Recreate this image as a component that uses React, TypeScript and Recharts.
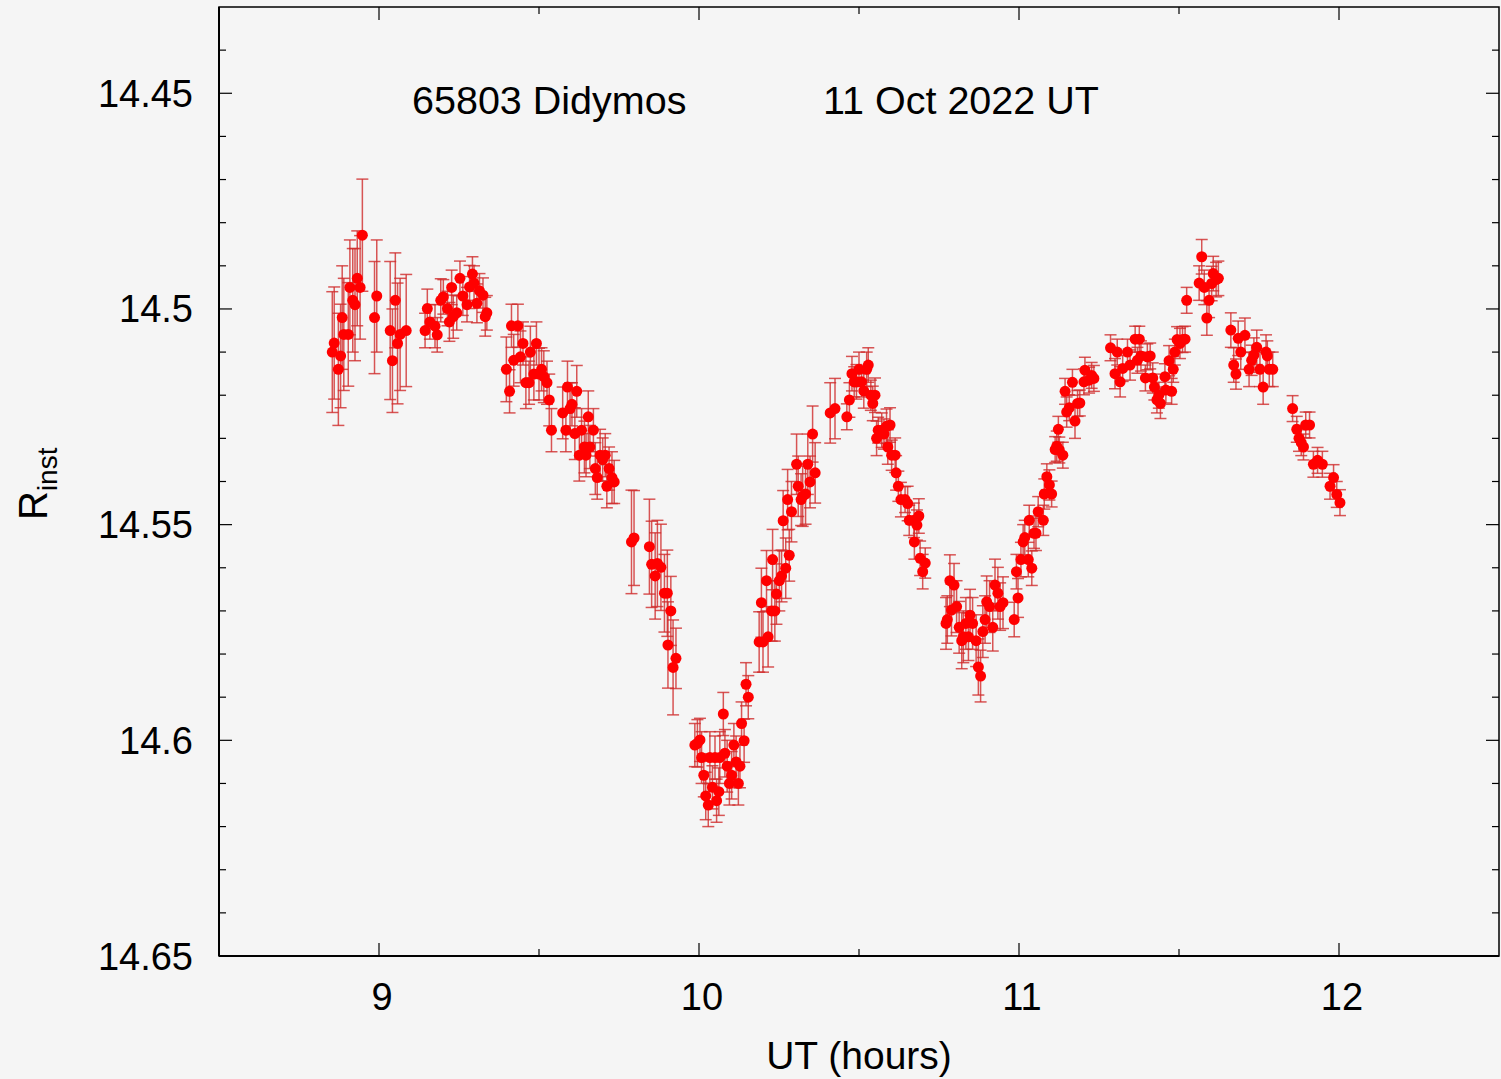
import { ErrorBar, ReferenceArea, Scatter, ScatterChart, XAxis, YAxis } from "recharts";

const W = 1501;
const H = 1079;
const PLOT = { left: 219, top: 7, right: 1499, bottom: 956 };
const AXIS_BOX = 60;
const FONT = '"Liberation Sans", Arial, Helvetica, sans-serif';
const INK = "#000";
const BG = "#f5f5f5";

const X_DOMAIN = [8.5, 12.5];
const Y_DOMAIN = [14.43, 14.65];
const X_MAJOR = [9, 10, 11, 12];
const X_MINOR = [9.5, 10.5, 11.5];
const Y_MAJOR = [14.45, 14.5, 14.55, 14.6, 14.65];
const Y_MINOR = [
  14.44, 14.46, 14.47, 14.48, 14.49, 14.51, 14.52, 14.53, 14.54, 14.56, 14.57, 14.58, 14.59, 14.61, 14.62,
  14.63, 14.64,
];

// [UT hours, R_inst, 1-sigma error]
type Obs = [number, number, number];

const BLOCK_A: Obs[] = [
  [8.854, 14.51, 0.014], [8.86, 14.5079, 0.013], [8.873, 14.514, 0.013], [8.88, 14.5109, 0.012],
  [8.885, 14.502, 0.012], [8.89, 14.5059, 0.013], [8.904, 14.5059, 0.012], [8.909, 14.495, 0.011],
  [8.918, 14.498, 0.012], [8.925, 14.499, 0.013], [8.932, 14.4929, 0.011], [8.941, 14.495, 0.012],
  [8.948, 14.4829, 0.013], [8.986, 14.502, 0.013], [8.993, 14.497, 0.013], [9.035, 14.505, 0.016],
  [9.042, 14.512, 0.012], [9.051, 14.498, 0.011], [9.058, 14.508, 0.014], [9.066, 14.5059, 0.013],
  [9.085, 14.505, 0.013],
];

const BLOCK_B: Obs[] = [
  [9.144, 14.505, 0.004], [9.151, 14.4999, 0.0045], [9.159, 14.503, 0.004], [9.175, 14.504, 0.005],
  [9.182, 14.506, 0.004], [9.193, 14.498, 0.005], [9.201, 14.4972, 0.004], [9.214, 14.4999, 0.004],
  [9.22, 14.503, 0.0045], [9.227, 14.495, 0.004], [9.232, 14.5018, 0.005], [9.243, 14.5009, 0.004],
  [9.253, 14.4929, 0.004], [9.262, 14.497, 0.0045], [9.275, 14.499, 0.004], [9.283, 14.4949, 0.005],
  [9.292, 14.4919, 0.004], [9.297, 14.494, 0.004], [9.306, 14.4987, 0.0045], [9.314, 14.4958, 0.004],
  [9.325, 14.4968, 0.004], [9.332, 14.5018, 0.0045], [9.337, 14.5009, 0.004],
];

const BLOCK_C: Obs[] = [
  [9.398, 14.514, 0.0075], [9.408, 14.5191, 0.005], [9.414, 14.5039, 0.005], [9.421, 14.5119, 0.006],
  [9.434, 14.5039, 0.005], [9.442, 14.5111, 0.006], [9.45, 14.508, 0.005], [9.459, 14.5171, 0.006],
  [9.469, 14.5171, 0.005], [9.473, 14.51, 0.006], [9.484, 14.5151, 0.006], [9.492, 14.508, 0.005],
  [9.5, 14.5151, 0.006], [9.508, 14.514, 0.005], [9.515, 14.5157, 0.006], [9.525, 14.5171, 0.005],
  [9.532, 14.5211, 0.006], [9.539, 14.5281, 0.005], [9.574, 14.5241, 0.006], [9.584, 14.5281, 0.005],
  [9.589, 14.5181, 0.006], [9.597, 14.5231, 0.006], [9.603, 14.5221, 0.005], [9.612, 14.5289, 0.006],
  [9.618, 14.5191, 0.006], [9.626, 14.5339, 0.006], [9.633, 14.5281, 0.005], [9.642, 14.532, 0.006],
  [9.647, 14.5339, 0.005], [9.654, 14.525, 0.006], [9.659, 14.532, 0.005], [9.67, 14.5281, 0.005],
  [9.676, 14.537, 0.006], [9.682, 14.5391, 0.005], [9.691, 14.5339, 0.006], [9.699, 14.5349, 0.005],
  [9.707, 14.5339, 0.005], [9.712, 14.5411, 0.005], [9.719, 14.537, 0.005], [9.728, 14.5391, 0.006],
  [9.735, 14.5401, 0.005],
];

const BLOCK_D: Obs[] = [
  [9.789, 14.554, 0.012], [9.797, 14.5531, 0.011], [9.845, 14.5551, 0.011], [9.852, 14.5592, 0.01],
  [9.863, 14.5619, 0.01], [9.87, 14.559, 0.01], [9.881, 14.5599, 0.01], [9.892, 14.5659, 0.009],
  [9.901, 14.5659, 0.01], [9.903, 14.5779, 0.01], [9.912, 14.57, 0.008], [9.919, 14.5831, 0.011],
  [9.928, 14.581, 0.007],
];

const BLOCK_E: Obs[] = [
  [9.987, 14.6011, 0.005], [9.995, 14.6007, 0.0055], [10.003, 14.5999, 0.005], [10.008, 14.604, 0.006],
  [10.015, 14.6081, 0.005], [10.021, 14.6129, 0.0055], [10.029, 14.615, 0.005], [10.034, 14.604, 0.006],
  [10.042, 14.6109, 0.005], [10.05, 14.604, 0.005], [10.055, 14.614, 0.005], [10.062, 14.6119, 0.0055],
  [10.065, 14.604, 0.006], [10.076, 14.5939, 0.005], [10.081, 14.603, 0.0055], [10.088, 14.606, 0.006],
  [10.095, 14.61, 0.005], [10.102, 14.6081, 0.0055], [10.109, 14.6011, 0.005], [10.116, 14.605, 0.006],
  [10.123, 14.61, 0.005], [10.128, 14.606, 0.005], [10.133, 14.5961, 0.005], [10.141, 14.6001, 0.005],
  [10.147, 14.587, 0.005], [10.154, 14.59, 0.005],
];

const BLOCK_F: Obs[] = [
  [10.188, 14.5772, 0.007], [10.195, 14.5681, 0.008], [10.2, 14.5772, 0.007], [10.211, 14.563, 0.007],
  [10.216, 14.576, 0.007], [10.227, 14.57, 0.007], [10.23, 14.5581, 0.007], [10.237, 14.57, 0.007],
  [10.242, 14.5661, 0.007], [10.251, 14.563, 0.007], [10.258, 14.5619, 0.006], [10.263, 14.5491, 0.007],
  [10.271, 14.5601, 0.007], [10.277, 14.5442, 0.007], [10.282, 14.5571, 0.006], [10.289, 14.547, 0.007],
  [10.305, 14.536, 0.007], [10.31, 14.5411, 0.007], [10.319, 14.5442, 0.006], [10.324, 14.5434, 0.007],
  [10.333, 14.5429, 0.007], [10.34, 14.536, 0.007], [10.347, 14.5401, 0.006], [10.355, 14.529, 0.0065],
  [10.363, 14.538, 0.007],
];

const BLOCK_G: Obs[] = [
  [10.41, 14.5241, 0.007], [10.425, 14.5231, 0.007], [10.462, 14.525, 0.003], [10.47, 14.5211, 0.004],
  [10.478, 14.515, 0.004], [10.485, 14.5169, 0.0035], [10.492, 14.5169, 0.004], [10.5, 14.514, 0.004],
  [10.508, 14.5169, 0.0035], [10.515, 14.519, 0.004], [10.524, 14.514, 0.004], [10.529, 14.513, 0.004],
  [10.537, 14.52, 0.0035], [10.543, 14.5219, 0.004], [10.55, 14.52, 0.004], [10.555, 14.53, 0.004],
  [10.56, 14.5281, 0.003], [10.571, 14.5281, 0.004], [10.578, 14.529, 0.0035], [10.586, 14.5272, 0.004],
  [10.59, 14.532, 0.004], [10.597, 14.5269, 0.004], [10.602, 14.5339, 0.0035], [10.613, 14.5339, 0.004],
  [10.616, 14.538, 0.004], [10.623, 14.5411, 0.0035], [10.631, 14.5442, 0.004], [10.644, 14.5442, 0.003],
  [10.652, 14.5451, 0.004], [10.657, 14.549, 0.0035], [10.672, 14.549, 0.004], [10.673, 14.554, 0.004],
  [10.681, 14.5501, 0.0035], [10.687, 14.548, 0.004], [10.691, 14.5578, 0.004], [10.699, 14.5609, 0.004],
  [10.707, 14.5589, 0.0035],
];

const BLOCK_H: Obs[] = [
  [10.772, 14.5729, 0.006], [10.776, 14.572, 0.0055], [10.784, 14.563, 0.006], [10.789, 14.5698, 0.006],
  [10.797, 14.564, 0.005], [10.805, 14.569, 0.006], [10.813, 14.5738, 0.006], [10.821, 14.5769, 0.0065],
  [10.826, 14.576, 0.006], [10.834, 14.5729, 0.006], [10.842, 14.576, 0.0055], [10.847, 14.571, 0.006],
  [10.855, 14.5729, 0.006], [10.866, 14.5769, 0.006], [10.873, 14.583, 0.0065], [10.88, 14.5851, 0.006],
  [10.887, 14.5748, 0.006], [10.894, 14.572, 0.0055], [10.899, 14.5679, 0.006], [10.908, 14.569, 0.006],
  [10.918, 14.5738, 0.0055], [10.925, 14.564, 0.006], [10.934, 14.5659, 0.006], [10.941, 14.569, 0.0055],
  [10.95, 14.5681, 0.006], [10.985, 14.572, 0.004], [10.992, 14.5609, 0.004], [10.997, 14.567, 0.0045],
  [11.006, 14.5581, 0.004], [11.013, 14.554, 0.004], [11.018, 14.553, 0.004], [11.029, 14.5581, 0.004],
  [11.032, 14.549, 0.0035], [11.04, 14.5601, 0.004], [11.047, 14.552, 0.0035], [11.053, 14.552, 0.004],
  [11.06, 14.547, 0.0035], [11.076, 14.549, 0.0035], [11.079, 14.5429, 0.0035], [11.087, 14.5389, 0.003],
  [11.095, 14.5408, 0.0035], [11.102, 14.5429, 0.003], [11.113, 14.5326, 0.003], [11.118, 14.5318, 0.0035],
  [11.123, 14.5279, 0.003], [11.126, 14.5327, 0.003], [11.137, 14.5339, 0.003], [11.144, 14.5191, 0.003],
  [11.149, 14.5239, 0.0035], [11.157, 14.5229, 0.003], [11.167, 14.517, 0.003], [11.175, 14.526, 0.004],
  [11.183, 14.5219, 0.003], [11.19, 14.5218, 0.003], [11.203, 14.5169, 0.003], [11.206, 14.5142, 0.003],
  [11.219, 14.5165, 0.003], [11.227, 14.5154, 0.003], [11.234, 14.5161, 0.003],
];

const BLOCK_I: Obs[] = [
  [11.286, 14.509, 0.003], [11.3, 14.515, 0.0035], [11.307, 14.51, 0.003], [11.316, 14.5169, 0.0035],
  [11.324, 14.5138, 0.003], [11.339, 14.51, 0.003], [11.347, 14.513, 0.0035], [11.363, 14.507, 0.003],
  [11.37, 14.5119, 0.003], [11.376, 14.507, 0.003], [11.381, 14.5109, 0.0035], [11.395, 14.516, 0.003],
  [11.401, 14.5111, 0.003], [11.41, 14.5109, 0.003], [11.418, 14.516, 0.0035], [11.423, 14.5181, 0.003],
  [11.431, 14.5211, 0.003], [11.437, 14.52, 0.003], [11.442, 14.5219, 0.0035], [11.456, 14.5157, 0.003],
  [11.459, 14.5188, 0.003], [11.469, 14.512, 0.0035], [11.477, 14.5191, 0.003], [11.482, 14.514, 0.003],
  [11.487, 14.51, 0.003], [11.494, 14.5071, 0.003], [11.503, 14.508, 0.0035], [11.511, 14.5071, 0.003],
  [11.519, 14.507, 0.003],
];

const BLOCK_J: Obs[] = [
  [11.524, 14.498, 0.003], [11.563, 14.494, 0.004], [11.571, 14.4879, 0.004], [11.579, 14.495, 0.004],
  [11.587, 14.5021, 0.004], [11.594, 14.498, 0.004], [11.602, 14.4941, 0.004], [11.607, 14.4918, 0.004],
  [11.616, 14.4932, 0.004], [11.623, 14.4929, 0.004],
];

const BLOCK_K: Obs[] = [
  [11.662, 14.5049, 0.004], [11.671, 14.513, 0.004], [11.678, 14.5151, 0.0035], [11.685, 14.5068, 0.004],
  [11.693, 14.51, 0.004], [11.706, 14.5061, 0.004], [11.719, 14.514, 0.004], [11.727, 14.5119, 0.0035],
  [11.734, 14.5107, 0.004], [11.743, 14.5089, 0.004], [11.753, 14.514, 0.004], [11.763, 14.5181, 0.004],
  [11.772, 14.51, 0.004], [11.776, 14.5109, 0.0035], [11.782, 14.514, 0.004], [11.793, 14.514, 0.004],
];

const BLOCK_L: Obs[] = [
  [11.855, 14.5231, 0.003], [11.868, 14.5279, 0.003], [11.875, 14.53, 0.003], [11.882, 14.531, 0.003],
  [11.889, 14.532, 0.003], [11.896, 14.5269, 0.003], [11.908, 14.5269, 0.003], [11.92, 14.536, 0.003],
  [11.933, 14.5351, 0.003], [11.948, 14.536, 0.003], [11.972, 14.5411, 0.003], [11.983, 14.5391, 0.003],
  [11.993, 14.543, 0.003], [12.003, 14.5449, 0.003],
];

const BLOCKS = [
  BLOCK_A, BLOCK_B, BLOCK_C, BLOCK_D, BLOCK_E, BLOCK_F, BLOCK_G, BLOCK_H, BLOCK_I, BLOCK_J, BLOCK_K, BLOCK_L,
];

const points = BLOCKS.flat().map(([ut, r, err]) => ({ ut, r, err }));

// ticks point inward on all four sides, gnuplot style
function XTick(props: any) {
  const { x, y, payload } = props;
  const major = X_MAJOR.includes(payload.value);
  const len = major ? 13 : 7;
  return (
    <g>
      <line x1={x} x2={x} y1={y} y2={y - len} stroke={INK} strokeWidth={1.2} />
      <line x1={x} x2={x} y1={PLOT.top} y2={PLOT.top + len} stroke={INK} strokeWidth={1.2} />
      {major && (
        <text x={x + 3} y={y + 54} textAnchor="middle" fontSize={38} fontFamily={FONT} fill={INK}>
          {payload.value}
        </text>
      )}
    </g>
  );
}

function YTick(props: any) {
  const { x, y, payload } = props;
  const major = Y_MAJOR.includes(payload.value);
  const len = major ? 13 : 7;
  return (
    <g>
      <line x1={x} x2={x + len} y1={y} y2={y} stroke={INK} strokeWidth={1.2} />
      <line x1={PLOT.right} x2={PLOT.right - len} y1={y} y2={y} stroke={INK} strokeWidth={1.2} />
      {major && (
        <text x={x - 26} y={y + 13.5} textAnchor="end" fontSize={38} fontFamily={FONT} fill={INK}>
          {payload.value}
        </text>
      )}
    </g>
  );
}

function Dot(props: any) {
  return <circle cx={props.cx} cy={props.cy} r={5.5} fill="#ff0000" />;
}

export default function App() {
  return (
    <div style={{ position: "absolute", left: 0, top: 0, width: W, height: H, background: BG, overflow: "hidden" }}>
      <ScatterChart
        width={W}
        height={H}
        margin={{
          top: PLOT.top,
          right: W - PLOT.right,
          bottom: H - PLOT.bottom - AXIS_BOX,
          left: PLOT.left - AXIS_BOX,
        }}
      >
        <XAxis
          type="number"
          dataKey="ut"
          domain={X_DOMAIN}
          ticks={[...X_MAJOR, ...X_MINOR].sort((a, b) => a - b)}
          interval={0}
          allowDataOverflow
          height={AXIS_BOX}
          tickSize={0}
          tickMargin={0}
          tick={XTick}
          axisLine={{ stroke: INK, strokeWidth: 2 }}
        />
        <YAxis
          type="number"
          dataKey="r"
          domain={Y_DOMAIN}
          reversed
          ticks={[...Y_MAJOR, ...Y_MINOR].sort((a, b) => a - b)}
          interval={0}
          allowDataOverflow
          width={AXIS_BOX}
          tickSize={0}
          tickMargin={0}
          tick={YTick}
          axisLine={{ stroke: INK, strokeWidth: 2 }}
        />
        <ReferenceArea
          x1={X_DOMAIN[0]}
          x2={X_DOMAIN[1]}
          y1={Y_DOMAIN[0]}
          y2={Y_DOMAIN[1]}
          fill="none"
          fillOpacity={0}
          stroke={INK}
          strokeWidth={1.5}
        />
        <Scatter data={points} fill="#ff0000" shape={Dot} isAnimationActive={false}>
          <ErrorBar dataKey="err" direction="y" width={6} stroke="#d02c2c" strokeWidth={1.5} strokeOpacity={0.8} />
        </Scatter>
      </ScatterChart>
      <svg width={W} height={H} style={{ position: "absolute", left: 0, top: 0, pointerEvents: "none" }}>
        <g fontFamily={FONT} fontSize={39.5} fill={INK}>
          <text x={412} y={114}>65803 Didymos</text>
          <text x={823} y={114}>11 Oct 2022 UT</text>
          <text x={859} y={1069} textAnchor="middle" fontSize={39}>UT (hours)</text>
          <text transform="translate(47, 520) rotate(-90)">
            <tspan fontSize={40}>R</tspan>
            <tspan fontSize={28} dy={10}>inst</tspan>
          </text>
        </g>
      </svg>
    </div>
  );
}
